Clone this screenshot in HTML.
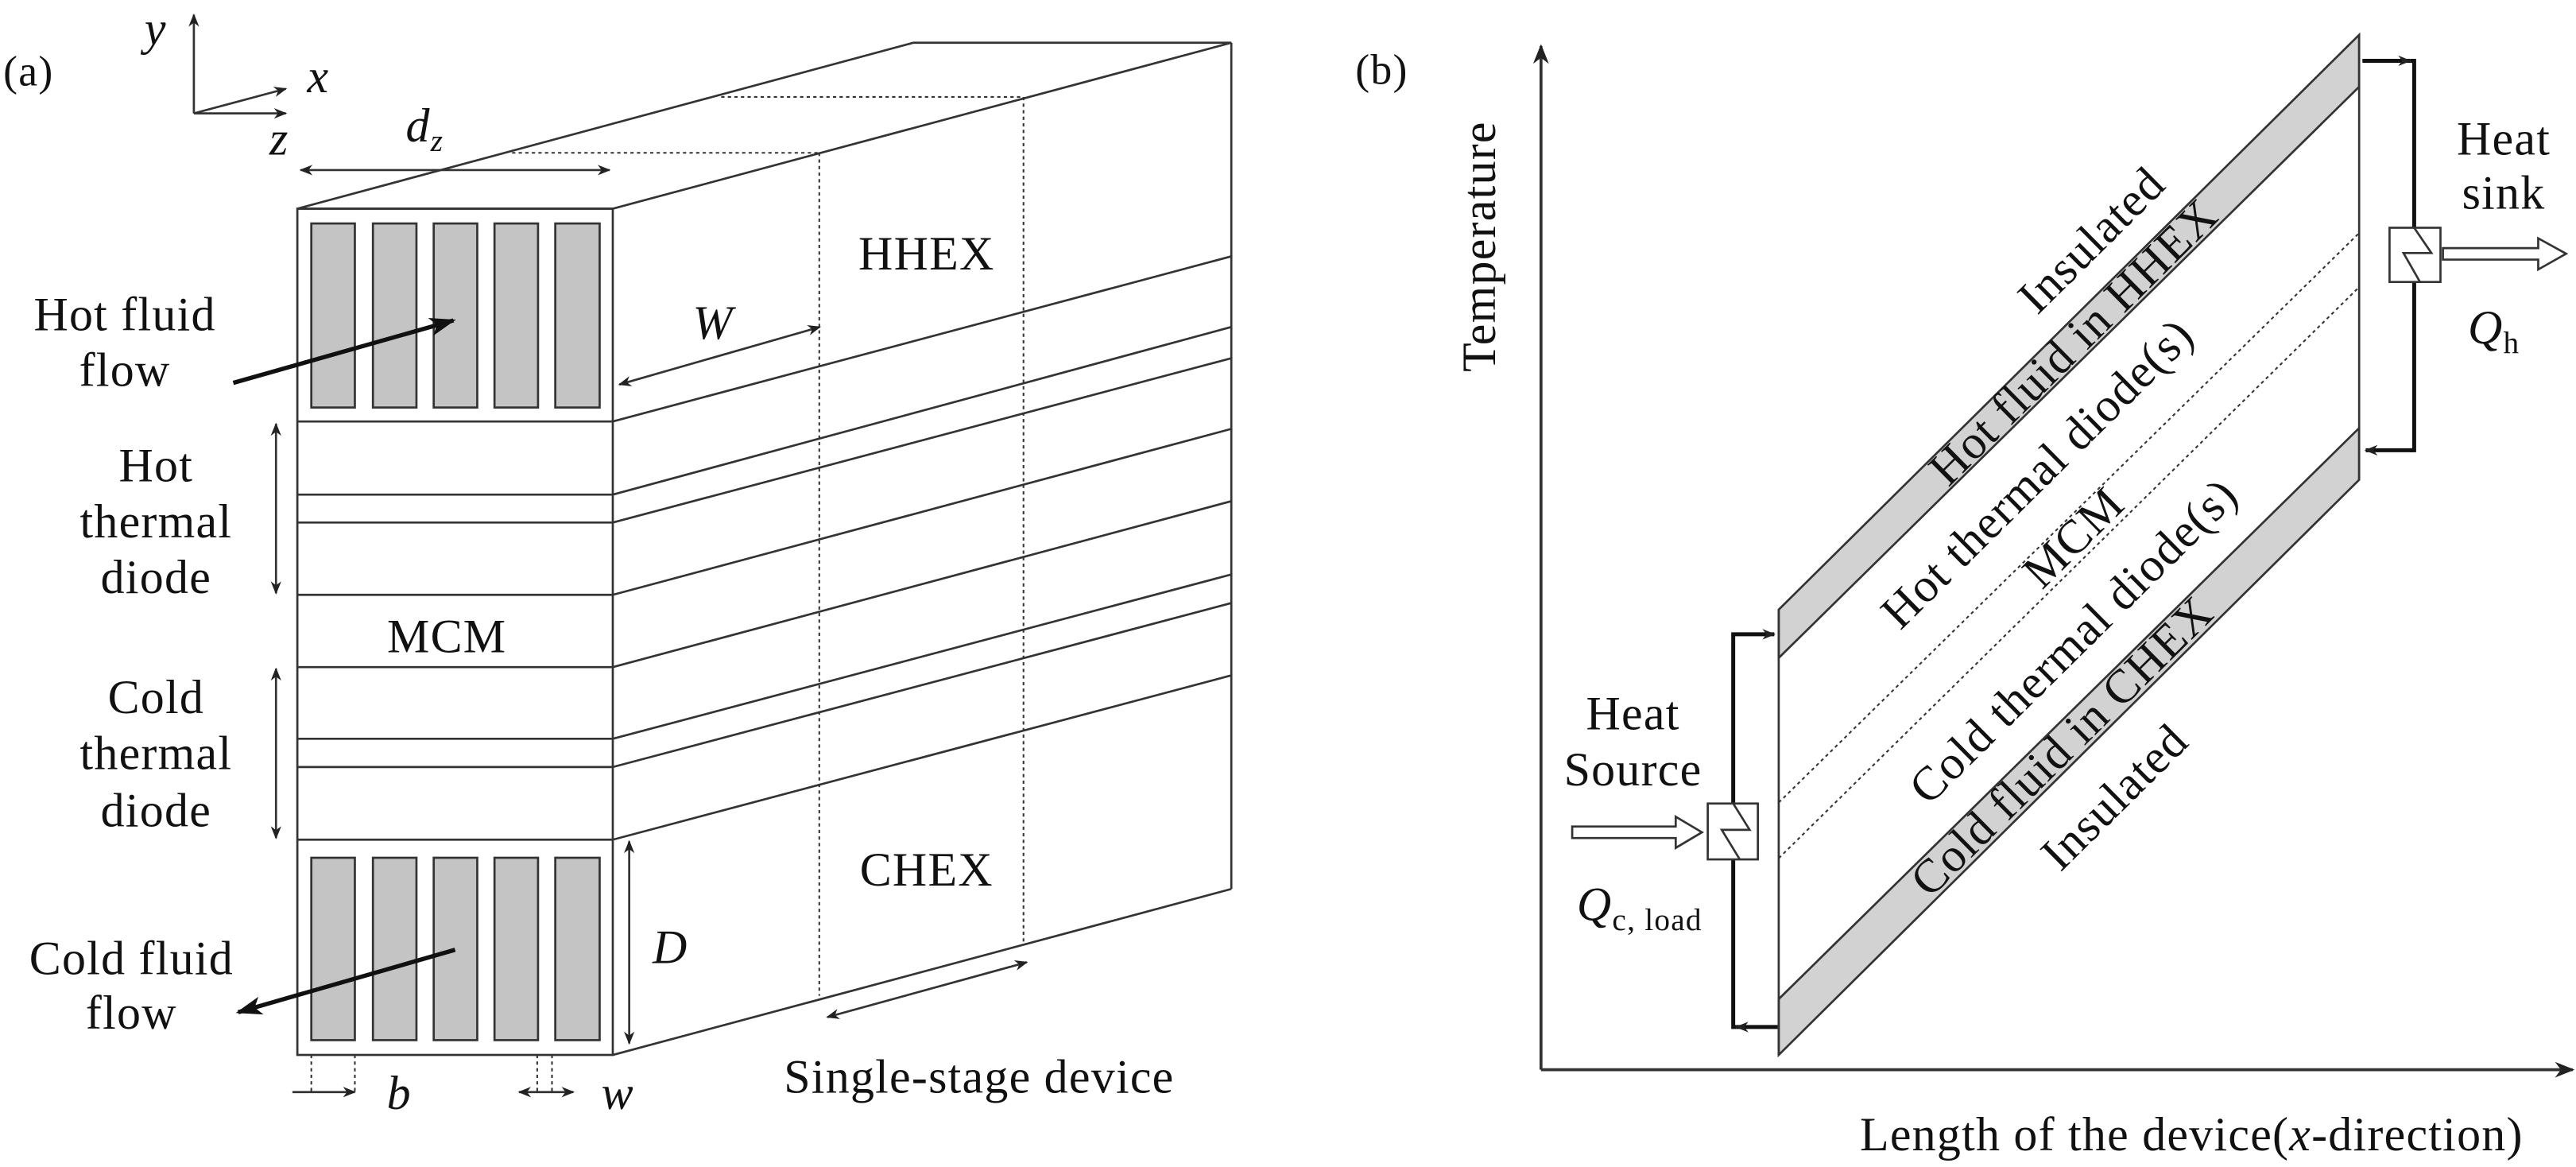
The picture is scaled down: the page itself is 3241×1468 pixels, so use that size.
<!DOCTYPE html>
<html><head><meta charset="utf-8"><style>
html,body{margin:0;padding:0;background:#fff;}
svg{display:block;}
text{font-family:"Liberation Serif",serif;fill:#111;}
</style></head><body>
<svg width="3241" height="1468" viewBox="0 0 1568 710.2" preserveAspectRatio="none" xmlns="http://www.w3.org/2000/svg">
<defs>
<marker id="a" viewBox="0 0 10 10" refX="9" refY="5" markerWidth="8" markerHeight="8" orient="auto-start-reverse" markerUnits="userSpaceOnUse"><path d="M0,1 L10,5 L0,9 L3,5z" fill="#222"/></marker>
<marker id="ax" viewBox="0 0 10 10" refX="9" refY="5" markerWidth="12" markerHeight="12" orient="auto" markerUnits="userSpaceOnUse"><path d="M0,1 L10,5 L0,9 L3,5z" fill="#222"/></marker>
<marker id="ab" viewBox="0 0 10 10" refX="9" refY="5" markerWidth="16" markerHeight="16" orient="auto" markerUnits="userSpaceOnUse"><path d="M0,1.5 L10,5 L0,8.5 L2.5,5z" fill="#111"/></marker>
</defs>
<g stroke="#333" stroke-width="1.3" fill="none">
<!-- panel a -->
<line x1="118" y1="69" x2="118" y2="9" marker-end="url(#a)"/>
<line x1="118" y1="69" x2="174" y2="54" marker-end="url(#a)"/>
<line x1="118" y1="69" x2="174" y2="69" marker-end="url(#a)"/>
<polygon points="181,127 373,127 749.5,26 556,26"/>
<rect x="181" y="127" width="192" height="515"/>
<line x1="749.5" y1="26" x2="749.5" y2="541"/>
<line x1="373" y1="642" x2="749.5" y2="541"/>
<g>
<line x1="181" y1="256.5" x2="373" y2="256.5"/><line x1="373" y1="256.5" x2="749.5" y2="156"/>
<line x1="181" y1="301" x2="373" y2="301"/><line x1="373" y1="301" x2="749.5" y2="199"/>
<line x1="181" y1="318" x2="373" y2="318"/><line x1="373" y1="318" x2="749.5" y2="218"/>
<line x1="181" y1="362" x2="373" y2="362"/><line x1="373" y1="362" x2="749.5" y2="261"/>
<line x1="181" y1="406" x2="373" y2="406"/><line x1="373" y1="406" x2="749.5" y2="305"/>
<line x1="181" y1="449.6" x2="373" y2="449.6"/><line x1="373" y1="449.6" x2="749.5" y2="349.6"/>
<line x1="181" y1="466.8" x2="373" y2="466.8"/><line x1="373" y1="466.8" x2="749.5" y2="367"/>
<line x1="181" y1="511" x2="373" y2="511"/><line x1="373" y1="511" x2="749.5" y2="411"/>
</g>
<g fill="#c4c4c4" stroke="#333">
<rect x="189.5" y="136" width="26.5" height="112"/><rect x="227" y="136" width="26.5" height="112"/><rect x="264" y="136" width="26.5" height="112"/><rect x="301" y="136" width="26.5" height="112"/><rect x="338" y="136" width="27" height="112"/>
<rect x="189.5" y="522" width="26.5" height="111"/><rect x="227" y="522" width="26.5" height="111"/><rect x="264" y="522" width="26.5" height="111"/><rect x="301" y="522" width="26.5" height="111"/><rect x="338" y="522" width="27" height="111"/>
</g>
<g stroke-dasharray="2,2" stroke-width="1">
<line x1="498.7" y1="93" x2="498.7" y2="606"/>
<line x1="623" y1="59" x2="623" y2="575"/>
<line x1="311.7" y1="93" x2="498.7" y2="93"/>
<line x1="439" y1="59" x2="623" y2="59"/>
<line x1="189.5" y1="642" x2="189.5" y2="664"/><line x1="216" y1="642" x2="216" y2="664"/>
<line x1="327" y1="642" x2="327" y2="664"/><line x1="336" y1="642" x2="336" y2="664"/>
</g>
<line x1="183" y1="103.5" x2="371" y2="103.5" marker-start="url(#a)" marker-end="url(#a)"/>
<line x1="377" y1="234" x2="499" y2="199" marker-start="url(#a)" marker-end="url(#a)"/>
<line x1="168" y1="258" x2="168" y2="361" marker-start="url(#a)" marker-end="url(#a)"/>
<line x1="168" y1="407" x2="168" y2="510" marker-start="url(#a)" marker-end="url(#a)"/>
<line x1="383" y1="512" x2="383" y2="635" marker-start="url(#a)" marker-end="url(#a)"/>
<line x1="178" y1="664.6" x2="216" y2="664.6" marker-end="url(#a)"/>
<line x1="316" y1="664.6" x2="349" y2="664.6" marker-start="url(#a)" marker-end="url(#a)"/>
<line x1="503.6" y1="619" x2="625" y2="585.6" marker-start="url(#a)" marker-end="url(#a)"/>
<line x1="142" y1="233" x2="276" y2="195" stroke="#111" stroke-width="2.6" marker-end="url(#ab)"/>
<line x1="277" y1="578" x2="145" y2="616" stroke="#111" stroke-width="2.6" marker-end="url(#ab)"/>

<!-- panel b -->
<line x1="938" y1="651" x2="938" y2="28" stroke-width="1.8" marker-end="url(#ax)"/>
<line x1="938" y1="651" x2="1566" y2="651" stroke-width="1.8" marker-end="url(#ax)"/>
<polygon points="1082.7,371 1436,21.2 1436,52.8 1082.7,400.4" fill="#d2d2d2"/>
<polygon points="1082.7,608 1436,260.5 1436,292 1082.7,642" fill="#d2d2d2"/>
<line x1="1082.7" y1="371" x2="1082.7" y2="642"/>
<line x1="1436" y1="21.2" x2="1436" y2="292"/>
<g stroke-dasharray="2,2" stroke-width="1">
<line x1="1082.7" y1="488.4" x2="1436" y2="141.8"/>
<line x1="1082.7" y1="522.3" x2="1436" y2="174.7"/>
</g>
<g stroke="#111" stroke-width="2.4">
<polyline points="1055,489 1055,386 1080,386" marker-end="url(#a)"/>
<polyline points="1055,523 1055,625 1057,625"/>
<line x1="1082" y1="625" x2="1057" y2="625" marker-end="url(#a)"/>
<polyline points="1469.5,138.6 1469.5,37 1467,37"/>
<line x1="1438" y1="37" x2="1467" y2="37" marker-end="url(#a)"/>
<polyline points="1469.5,171.5 1469.5,274 1467,274"/>
<line x1="1469" y1="274" x2="1440" y2="274" marker-end="url(#a)"/>
</g>
<rect x="1039.5" y="489" width="30.5" height="34" fill="#fff"/>
<polyline points="1055,489 1065,505 1048,505 1059,523"/>
<rect x="1454.5" y="138.6" width="31" height="33" fill="#fff"/>
<polyline points="1469.5,138.6 1480,154 1463,154 1473,171.5"/>
<polygon points="957,503 1020,503 1020,497 1036,506.5 1020,516 1020,510 957,510" fill="#fff"/>
<polygon points="1487,151 1545,151 1545,145 1562,154.4 1545,164 1545,158 1487,158" fill="#fff"/>
</g>
<g font-size="29" letter-spacing="0.6">
<text x="2" y="52" font-size="26">(a)</text>
<text x="88" y="27" font-style="italic">y</text>
<text x="187" y="56" font-style="italic">x</text>
<text x="164" y="94" font-style="italic">z</text>
<text x="247" y="86" font-style="italic">d<tspan font-size="19" dy="6">z</tspan></text>
<text x="564" y="164" text-anchor="middle">HHEX</text>
<text x="564" y="539" text-anchor="middle">CHEX</text>
<text x="272" y="397" text-anchor="middle">MCM</text>
<text x="434" y="206" text-anchor="middle" font-style="italic">W</text>
<text x="408" y="586" text-anchor="middle" font-style="italic">D</text>
<text x="243" y="675" text-anchor="middle" font-style="italic">b</text>
<text x="376" y="675" text-anchor="middle" font-style="italic">w</text>
<text x="76" y="201" text-anchor="middle">Hot fluid</text>
<text x="76" y="235" text-anchor="middle">flow</text>
<text x="95" y="293" text-anchor="middle">Hot</text>
<text x="95" y="327" text-anchor="middle">thermal</text>
<text x="95" y="361" text-anchor="middle">diode</text>
<text x="95" y="434" text-anchor="middle">Cold</text>
<text x="95" y="468" text-anchor="middle">thermal</text>
<text x="95" y="503" text-anchor="middle">diode</text>
<text x="80" y="593" text-anchor="middle">Cold fluid</text>
<text x="80" y="626" text-anchor="middle">flow</text>
<text x="596" y="665" text-anchor="middle">Single-stage device</text>

<text x="825" y="51" font-size="26">(b)</text>
<text transform="translate(910,150) rotate(-90)" text-anchor="middle">Temperature</text>
<text x="1334" y="700" text-anchor="middle">Length of the device(<tspan font-style="italic">x</tspan>-direction)</text>
<text x="1524" y="94" text-anchor="middle">Heat</text>
<text x="1524" y="127" text-anchor="middle">sink</text>
<text x="1518" y="209" text-anchor="middle" font-style="italic">Q<tspan font-style="normal" font-size="19" dy="6">h</tspan></text>
<text x="994" y="444" text-anchor="middle">Heat</text>
<text x="994" y="478" text-anchor="middle">Source</text>
<text x="998" y="560" text-anchor="middle" font-style="italic">Q<tspan font-style="normal" font-size="19" dy="6">c, load</tspan></text>
<g text-anchor="middle" dominant-baseline="central">
<text transform="translate(1273,146) rotate(-44.7)">Insulated</text>
<text transform="translate(1262,208) rotate(-44.7)">Hot fluid in HHEX</text>
<text transform="translate(1240,288) rotate(-44.7)">Hot thermal diode(s)</text>
<text transform="translate(1262,327) rotate(-44.7)">MCM</text>
<text transform="translate(1262,390) rotate(-44.7)">Cold thermal diode(s)</text>
<text transform="translate(1255,454) rotate(-44.7)">Cold fluid in CHEX</text>
<text transform="translate(1287,485) rotate(-44.7)">Insulated</text>
</g>
</g>
</svg>
</body></html>
